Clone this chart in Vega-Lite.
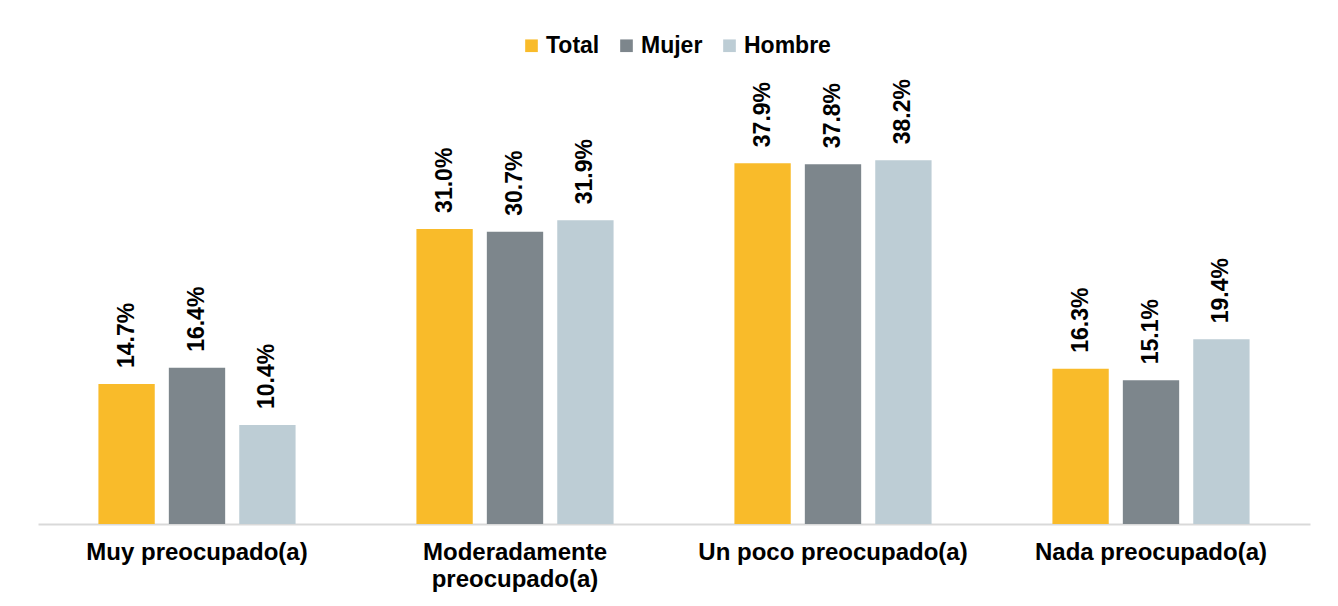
{
  "$schema": "https://vega.github.io/schema/vega-lite/v6.json",
  "width": 1272,
  "height": 476,
  "autosize": "none",
  "padding": {"left": 38, "top": 48, "right": 28, "bottom": 82},
  "background": "white",
  "config": {"view": {"stroke": null}, "font": "Liberation Sans"},
  "data": {
    "values": [
      {"cat": "Muy preocupado(a)", "serie": "Total", "v": 0.147},
      {"cat": "Muy preocupado(a)", "serie": "Mujer", "v": 0.164},
      {"cat": "Muy preocupado(a)", "serie": "Hombre", "v": 0.104},
      {"cat": "Moderadamente preocupado(a)", "serie": "Total", "v": 0.310},
      {"cat": "Moderadamente preocupado(a)", "serie": "Mujer", "v": 0.307},
      {"cat": "Moderadamente preocupado(a)", "serie": "Hombre", "v": 0.319},
      {"cat": "Un poco preocupado(a)", "serie": "Total", "v": 0.379},
      {"cat": "Un poco preocupado(a)", "serie": "Mujer", "v": 0.378},
      {"cat": "Un poco preocupado(a)", "serie": "Hombre", "v": 0.382},
      {"cat": "Nada preocupado(a)", "serie": "Total", "v": 0.163},
      {"cat": "Nada preocupado(a)", "serie": "Mujer", "v": 0.151},
      {"cat": "Nada preocupado(a)", "serie": "Hombre", "v": 0.194}
    ]
  },
  "encoding": {
    "x": {
      "field": "cat",
      "type": "nominal",
      "sort": ["Muy preocupado(a)", "Moderadamente preocupado(a)", "Un poco preocupado(a)", "Nada preocupado(a)"],
      "scale": {"paddingInner": 0.38, "paddingOuter": 0.19},
      "axis": {
        "title": null,
        "labelAngle": 0,
        "labelFontSize": 24,
        "labelFontWeight": "bold",
        "labelColor": "black",
        "labelPadding": 16,
        "labelLineHeight": 27,
        "labelLimit": 0,
        "ticks": false,
        "domainColor": "#D9D9D9",
        "domainWidth": 2,
        "labelExpr": "datum.value == 'Moderadamente preocupado(a)' ? ['Moderadamente', 'preocupado(a)'] : datum.value"
      }
    },
    "xOffset": {
      "field": "serie",
      "type": "nominal",
      "sort": ["Total", "Mujer", "Hombre"],
      "scale": {"paddingInner": 0.2, "paddingOuter": 0}
    },
    "y": {
      "field": "v",
      "type": "quantitative",
      "scale": {"domain": [0, 0.5]},
      "axis": null
    }
  },
  "layer": [
    {
      "mark": {"type": "bar"},
      "encoding": {
        "color": {
          "field": "serie",
          "type": "nominal",
          "scale": {"domain": ["Total", "Mujer", "Hombre"], "range": ["#F9BB2A", "#7D868C", "#BDCDD5"]},
          "legend": {
            "title": null,
            "orient": "none",
            "legendX": 482,
            "legendY": -14,
            "direction": "horizontal",
            "symbolType": "square",
            "symbolSize": 160,
            "symbolStrokeWidth": 0,
            "labelFontSize": 23,
            "labelFontWeight": "bold",
            "labelColor": "black",
            "labelOffset": 3,
            "columnPadding": 15,
            "padding": 0
          }
        }
      }
    },
    {
      "mark": {"type": "text", "angle": 270, "align": "left", "baseline": "middle", "dx": 16, "fontSize": 23, "fontWeight": "bold", "color": "black"},
      "encoding": {
        "text": {"field": "v", "type": "quantitative", "format": ".1%"}
      }
    }
  ]
}
